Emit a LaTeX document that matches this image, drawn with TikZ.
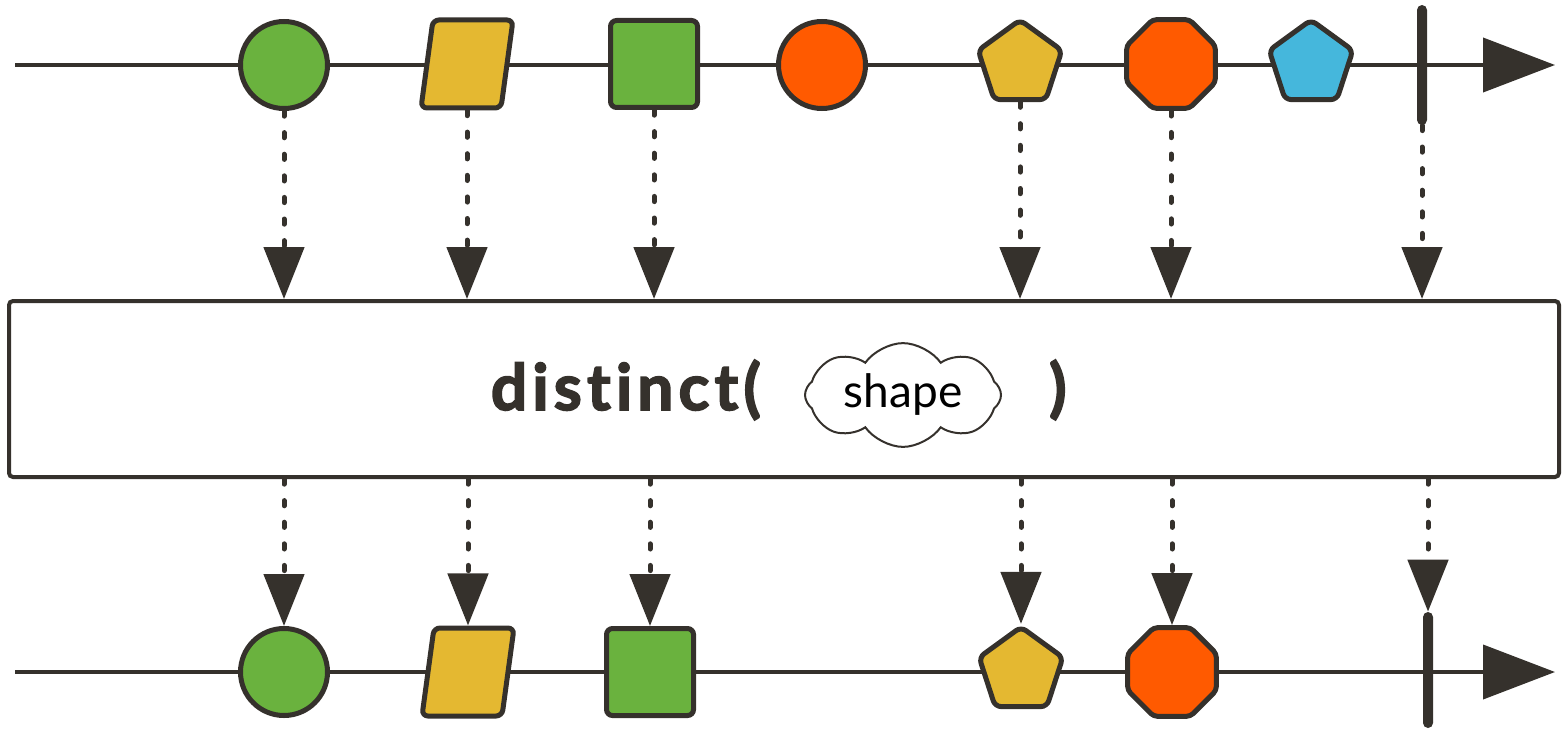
\documentclass[tikz,border=0pt]{standalone}
\usepackage{fontspec}
\setmainfont{Lato}
\newfontfamily\opfont{Lato}[Ligatures=NoCommon,FakeBold=2.5,LetterSpace=8]
\usetikzlibrary{arrows.meta,shapes.geometric,shapes.symbols}
\definecolor{ink}{HTML}{35312C}
\definecolor{mgreen}{HTML}{6AB23E}
\definecolor{myellow}{HTML}{E4B831}
\definecolor{morange}{HTML}{FF5A00}
\definecolor{mblue}{HTML}{45B7DC}
\tikzset{
  marble/.style={draw=ink,line width=2.5pt,inner sep=0pt},
  ball/.style={marble,circle,minimum size=43.5pt},
  sq/.style={marble,rectangle,rounded corners=3pt,minimum size=43.5pt},
  para/.style={marble,trapezium,trapezium left angle=80,trapezium right angle=100,trapezium stretches=true,inner sep=1pt,rounded corners=3pt,minimum height=44pt,minimum width=46pt},
  penta/.style={marble,regular polygon,regular polygon sides=5,rounded corners=3pt,minimum size=44pt},
  octa/.style={marble,regular polygon,regular polygon sides=8,rounded corners=2pt,minimum size=48pt},
  endbar/.style={fill=ink,rounded corners=2.5pt,inner sep=0pt,minimum width=5pt},
  timeline/.style={ink,line width=2pt,-{Triangle[length=36pt,width=27pt]}},
  flow/.style={ink,line width=2.5pt,line cap=round,dash pattern=on 2.6pt off 8.2pt,-{Triangle[length=26pt,width=20pt]}}
}

\begin{document}
\begin{tikzpicture}[x=0.5pt,y=-0.5pt,font=\fontsize{23}{27}\selectfont]
\useasboundingbox (0,0) rectangle (1567,738);

% source
\coordinate (s0) at (15,65);
\coordinate (s1) at (1555,65);
\draw[timeline] (s0) -- (s1);
\node[ball,fill=mgreen] (a1) at (284,65) {};
\node[para,fill=myellow] (a2) at (467,64) {};
\node[sq,fill=mgreen] (a3) at (654,64) {};
\node[ball,fill=morange] (a4) at (822,65) {};
\node[penta,fill=myellow] (a5) at (1020,64) {};
\node[octa,fill=morange] (a6) at (1171,64) {};
\node[penta,fill=mblue] (a7) at (1311,64) {};
\node[endbar,minimum height=60pt] (a8) at (1422,65) {};

% operator
\node[draw=ink,line width=2pt,rounded corners=2pt,minimum width=775pt,minimum height=88pt] (op) at (784,389) {};
\node[ink,anchor=base east,font=\fontsize{32}{38}\opfont\bfseries] (opname) at (768,410) {distinct(};
\node[cloud,draw=ink,line width=1pt,cloud puffs=8,cloud puff arc=110,aspect=2.2,minimum width=98pt,minimum height=50pt,inner sep=0pt] (key) at (903,395) {shape};
\node[ink,anchor=base west,font=\fontsize{32}{38}\opfont\bfseries] (opclose) at (1042,410) {)};

% result
\coordinate (r0) at (15,672);
\coordinate (r1) at (1555,672);
\draw[timeline] (r0) -- (r1);
\node[ball,fill=mgreen] (b1) at (284,672) {};
\node[para,fill=myellow] (b2) at (468,672) {};
\node[sq,fill=mgreen] (b3) at (650,672) {};
\node[penta,fill=myellow] (b5) at (1021,671) {};
\node[octa,fill=morange] (b6) at (1172,672) {};
\node[endbar,minimum height=58pt] (b8) at (1428,670) {};

\foreach \i in {1,2,3,5,6,8} {
  \draw[flow] (a\i |- a\i.south) -- (a\i |- op.north);
  \draw[flow] (b\i |- op.south) -- (b\i |- b\i.north);
}

\end{tikzpicture}
\end{document}
